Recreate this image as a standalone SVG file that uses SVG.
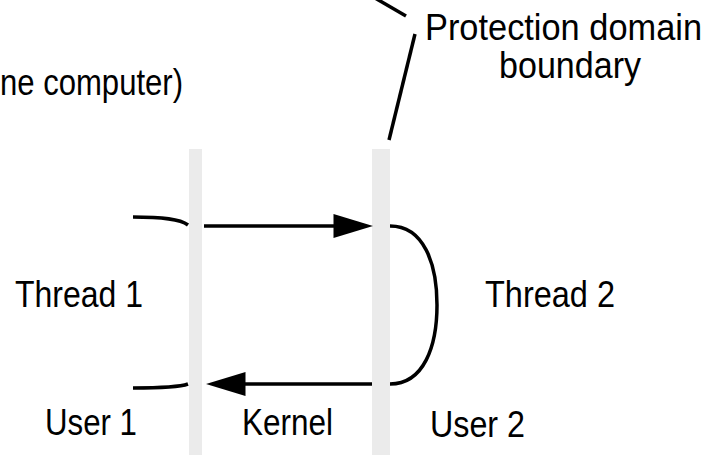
<svg xmlns="http://www.w3.org/2000/svg" width="709" height="455" viewBox="0 0 709 455">
<defs>
<style>
.lbl{font-family:"Liberation Sans",Arial,sans-serif;font-size:37px;fill:#000}
.ln{fill:none;stroke:#000;stroke-width:3.5}
.bar{fill:#ebebeb}
</style>
<marker id="ah" markerUnits="userSpaceOnUse" markerWidth="40" markerHeight="24" viewBox="0 0 38 23" refX="11" refY="11.5" orient="auto">
<path d="M0,0 L38,11.5 L0,23 z" fill="#000"/>
</marker>
</defs>
<rect width="709" height="455" fill="#fff"/>
<g id="boundary-left"><rect class="bar" x="189" y="149" width="13" height="306"/></g>
<g id="boundary-right"><rect class="bar" x="372" y="149" width="18" height="306"/></g>
<g id="connectors">
<path class="ln" d="M204,226 L345,226" marker-end="url(#ah)"/>
<path class="ln" d="M372,384 L234,384" marker-end="url(#ah)"/>
<path class="ln" d="M390,226 C424,226 437,264 437,305 C437,346 424,384 390,384"/>
<path class="ln" d="M133,217 C163,217 180,219 188,225"/>
<path class="ln" d="M133,388 C163,388 180,387 188,384"/>
<path class="ln" d="M375,-2 L406,16"/>
<path class="ln" d="M415,34 L389,140"/>
</g>
<g id="caption"><text class="lbl" x="0" y="95" textLength="183" lengthAdjust="spacingAndGlyphs">ne computer)</text></g>
<g id="protection-label">
<text class="lbl" x="425" y="40" textLength="277" lengthAdjust="spacingAndGlyphs">Protection domain</text>
<text class="lbl" x="499" y="78" textLength="142" lengthAdjust="spacingAndGlyphs">boundary</text>
</g>
<g id="thread1"><text class="lbl" x="15" y="307" textLength="128" lengthAdjust="spacingAndGlyphs">Thread 1</text></g>
<g id="thread2"><text class="lbl" x="485" y="307" textLength="130" lengthAdjust="spacingAndGlyphs">Thread 2</text></g>
<g id="user1"><text class="lbl" x="45" y="435" textLength="92" lengthAdjust="spacingAndGlyphs">User 1</text></g>
<g id="kernel"><text class="lbl" x="242" y="435" textLength="91" lengthAdjust="spacingAndGlyphs">Kernel</text></g>
<g id="user2"><text class="lbl" x="430" y="437" textLength="95" lengthAdjust="spacingAndGlyphs">User 2</text></g>
</svg>
